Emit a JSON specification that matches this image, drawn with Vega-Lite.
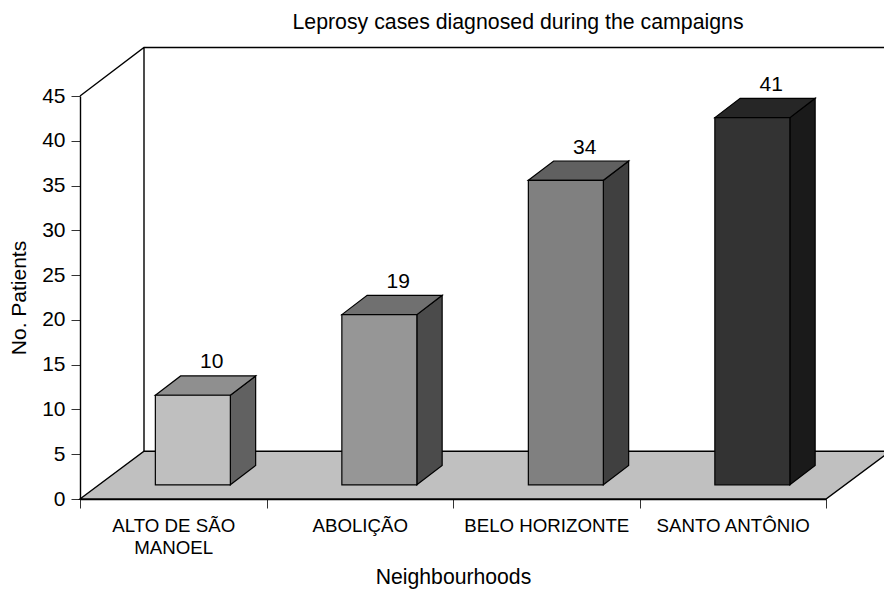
{
"$schema":"https://vega.github.io/schema/vega-lite/v6.json",
"width":746,"height":403,
"autosize":{"type":"none"},
"padding":{"left":80,"top":96,"right":58,"bottom":90},
"background":"white",
"title":{"text":"Leprosy cases diagnosed during the campaigns","anchor":"middle","dx":65,"offset":11,"font":"Liberation Sans","fontSize":21.3,"fontWeight":"normal","color":"#000"},
"config":{"view":{"stroke":null},"font":"Liberation Sans"},
"datasets":{"bars":[
{"neighbourhood":"ALTO DE SÃO MANOEL","patients":10,"corners":["front","back"]},
{"neighbourhood":"ABOLIÇÃO","patients":19,"corners":["front","back"]},
{"neighbourhood":"BELO HORIZONTE","patients":34,"corners":["front","back"]},
{"neighbourhood":"SANTO ANTÔNIO","patients":41,"corners":["front","back"]}
]},
"layer":[
{"data":{"values":[{"neighbourhood":"ALTO DE SÃO MANOEL","patients":0}]},
 "mark":{"type":"point","shape":"M0,0L746,0L810,-47.7L64,-47.7Z","size":4,"filled":true,"fill":"#c0c0c0","stroke":"#000","strokeWidth":1.4,"opacity":1},
 "encoding":{
  "x":{"field":"neighbourhood","type":"nominal","bandPosition":0,"sort":null,"scale":{"type":"band","domain":["ALTO DE SÃO MANOEL","ABOLIÇÃO","BELO HORIZONTE","SANTO ANTÔNIO"],"paddingInner":0,"paddingOuter":0},
   "title":"Neighbourhoods",
   "axis":{"tickBand":"extent","labelAngle":0,"labelLimit":0,"labelFont":"Liberation Sans","labelFontSize":18.7,"labelColor":"#000","labelPadding":8,"labelLineHeight":22,"labelBaseline":"top","labelExpr":"datum.label=='ALTO DE SÃO MANOEL'?['ALTO DE SÃO','MANOEL']:datum.label","tickColor":"#333","tickSize":9,"tickWidth":1,"domainColor":"#000","domainWidth":1.4,"titleFont":"Liberation Sans","titleFontSize":21.2,"titleFontWeight":"normal","titleColor":"#000","titlePadding":10,"grid":false}},
  "y":{"field":"patients","type":"quantitative","scale":{"domain":[0,45],"nice":false},
   "title":"No. Patients",
   "axis":{"values":[0,5,10,15,20,25,30,35,40,45],"labelFont":"Liberation Sans","labelFontSize":21,"labelColor":"#000","labelPadding":6,"tickColor":"#333","tickSize":9,"tickWidth":1,"domainColor":"#000","domainWidth":1.4,"titleFont":"Liberation Sans","titleFontSize":21,"titleFontWeight":"normal","titleColor":"#000","titlePadding":12,"grid":false}}
 }},
{"data":{"values":[{"neighbourhood":"ALTO DE SÃO MANOEL","patients":45}]},
 "mark":{"type":"point","shape":"M0,0L64,-48.5L810,-48.5M64,-48.5L64,355","size":4,"filled":false,"stroke":"#000","strokeWidth":1.4,"opacity":1},
 "encoding":{
  "x":{"field":"neighbourhood","type":"nominal","bandPosition":0,"sort":null},
  "y":{"field":"patients","type":"quantitative"}
 }},
{"data":{"name":"bars"},
 "transform":[{"flatten":["corners"],"as":["corner"]}],
 "mark":{"type":"area","orient":"vertical","stroke":"#000","strokeWidth":1.2,"opacity":1,
  "xOffset":{"expr":"datum.corner=='back'?82.4:57.1"},
  "yOffset":{"expr":"datum.corner=='back'?-33.5:-14.2"},
  "y2Offset":{"expr":"datum.corner=='back'?-33.5:-14.2"}},
 "encoding":{
  "x":{"field":"neighbourhood","type":"nominal","sort":null},
  "y":{"field":"patients","type":"quantitative","stack":null},
  "y2":{"datum":0},
  "detail":{"field":"neighbourhood"},
  "fill":{"field":"neighbourhood","type":"nominal","sort":null,"legend":null,"scale":{"domain":["ALTO DE SÃO MANOEL","ABOLIÇÃO","BELO HORIZONTE","SANTO ANTÔNIO"],"range":["#616161","#4b4b4b","#404040","#1a1a1a"]}}
 }},
{"data":{"name":"bars"},
 "mark":{"type":"point","shape":"M-37.5,0L-12.2,-19.3L62.8,-19.3L37.5,0Z","size":4,"filled":true,"stroke":"#000","strokeWidth":1.2,"opacity":1,"xOffset":19.6,"yOffset":-14.2},
 "encoding":{
  "x":{"field":"neighbourhood","type":"nominal","sort":null},
  "y":{"field":"patients","type":"quantitative"},
  "fill":{"field":"neighbourhood","type":"nominal","sort":null,"legend":null,"scale":{"domain":["ALTO DE SÃO MANOEL","ABOLIÇÃO","BELO HORIZONTE","SANTO ANTÔNIO"],"range":["#8f8f8f","#707070","#606060","#262626"]}}
 }},
{"data":{"name":"bars"},
 "mark":{"type":"bar","width":75,"xOffset":19.6,"yOffset":-14.2,"y2Offset":-14.2,"stroke":"#000","strokeWidth":1.2},
 "encoding":{
  "x":{"field":"neighbourhood","type":"nominal","sort":null},
  "y":{"field":"patients","type":"quantitative","stack":null},
  "y2":{"datum":0},
  "fill":{"field":"neighbourhood","type":"nominal","sort":null,"legend":null,"scale":{"domain":["ALTO DE SÃO MANOEL","ABOLIÇÃO","BELO HORIZONTE","SANTO ANTÔNIO"],"range":["#bfbfbf","#969696","#808080","#333333"]}}
 }},
{"data":{"name":"bars"},
 "mark":{"type":"text","font":"Liberation Sans","fontSize":21,"color":"#000","baseline":"alphabetic","align":"center","xOffset":38.5,"yOffset":-41},
 "encoding":{
  "x":{"field":"neighbourhood","type":"nominal","sort":null},
  "y":{"field":"patients","type":"quantitative"},
  "text":{"field":"patients","type":"quantitative"}
 }}
],
"resolve":{"scale":{"fill":"independent"}}
}
